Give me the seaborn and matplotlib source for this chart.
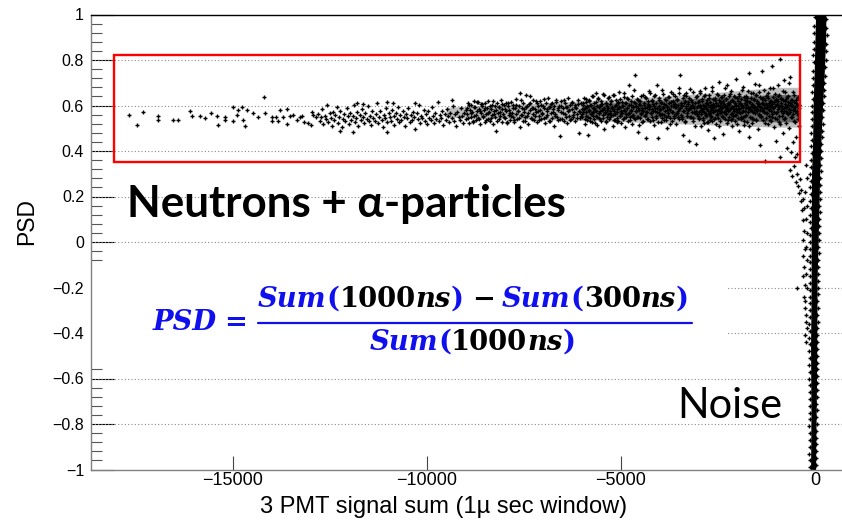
import numpy as np
import pandas as pd
import matplotlib
matplotlib.use("Agg")
import matplotlib.pyplot as plt
import seaborn as sns
from matplotlib.ticker import FixedLocator, FuncFormatter, AutoMinorLocator
from matplotlib.patches import Rectangle
from matplotlib.lines import Line2D

# ---------------- data ----------------
X_TICKS = [-15000, -10000, -5000, 0]
Y_TICKS = [-1.0, -0.8, -0.6, -0.4, -0.2, 0.0, 0.2, 0.4, 0.6, 0.8, 1.0]
GRID_Y = [0.8, 0.6, 0.4, 0.2, 0.0, -0.2, -0.4, -0.6, -0.8]
X_RANGE = (-18645, 695)
Y_RANGE = (-1.0, 1.0)
BOX_X = (-18058, -399)
BOX_Y = (0.350, 0.822)

# sparse left part of the neutron / alpha band
SPARSE = [(-17657,.560),(-17467,.516),(-17296,.571),(-16910,.554),(-16927,.536),(-16539,.537),(-16394,.537),
          (-16094,.574),(-16051,.554),(-15836,.552),(-15699,.543),(-15553,.566),(-15390,.552),(-15364,.516),
          (-15184,.551),(-15184,.536),(-14978,.592),(-14978,.533),(-14892,.558),(-14849,.580),(-14755,.592),
          (-14737,.536),(-14677,.512),(-14626,.582),(-14463,.566),(-14343,.548),(-14180,.636),(-14154,.565),
          (-13974,.548),(-13974,.533),(-13880,.548),(-13776,.580),(-13828,.530),(-13690,.551),(-13604,.583),
          (-13587,.518),(-13519,.553),(-13433,.558),(-13347,.536),(-13261,.548),(-13218,.556),(-13158,.528),
          (-13046,.524),(-12952,.573),(-12969,.516),(-12918,.559),(-12849,.551)]

MIDDLE = [(-12790,.561),(-12760,.532),(-12720,.548),(-12700,.586),(-12660,.519),(-12630,.553),(-12600,.541),
          (-12570,.603),(-12540,.528),(-12500,.566),(-12470,.545),(-12450,.512),(-12410,.571),(-12380,.536),
          (-12350,.557),(-12320,.594),(-12290,.523),(-12250,.549),(-12230,.490),(-12220,.578),(-12190,.507),
          (-12160,.541),(-12130,.563),(-12100,.534),(-12060,.587),(-12030,.552),(-12000,.518),(-11970,.569),
          (-11940,.538),(-11910,.556),(-11890,.482),(-11880,.601),(-11850,.529),(-11820,.545),(-11800,.612),
          (-11790,.572),(-11760,.511),(-11730,.558),(-11700,.537),(-11670,.583),(-11640,.549),(-11630,.606),
          (-11610,.524),(-11580,.566),(-11550,.542),(-11520,.597),(-11490,.531),(-11460,.555),(-11430,.514),
          (-11400,.576),(-11370,.546),(-11340,.533),(-11310,.562),(-11280,.609),(-11250,.521),(-11220,.551),
          (-11190,.574),(-11160,.538),(-11130,.505),(-11100,.559),(-11070,.544),(-11040,.588),(-11030,.617),
          (-11020,.484),(-11010,.527),(-10980,.565),(-10950,.548),(-10920,.532),(-10890,.579),(-10860,.611),
          (-10850,.553),(-10830,.516),(-10800,.569),(-10770,.541),(-10740,.595),(-10710,.526),(-10680,.557),
          (-10650,.536),(-10620,.574),(-10590,.548),(-10560,.512),(-10530,.563),(-10500,.543),(-10470,.589),
          (-10440,.529),(-10410,.558),(-10380,.537),(-10350,.571),(-10320,.551),(-10300,.613),(-10290,.496),
          (-10260,.566),(-10230,.539),(-10200,.604),(-10170,.525),(-10140,.556),(-10110,.545),(-10080,.582),
          (-10050,.533),(-10020,.561),(-9990,.519),(-9960,.575),(-9930,.547),(-9900,.535),(-9870,.592),
          (-9840,.554),(-9810,.523),(-9780,.568),(-9750,.542),(-9720,.614),(-9690,.531),(-9660,.559),
          (-9630,.546),(-9600,.577),(-9570,.515),(-9540,.563),(-9510,.538),(-9480,.585),(-9450,.552),
          (-9420,.527),(-9390,.569),(-9360,.544),(-9350,.625),(-9330,.598),(-9300,.534),(-9270,.561),
          (-9240,.508),(-9210,.573),(-9180,.548),(-9150,.536),(-9120,.589),(-9090,.555),(-9060,.522),(-9030,.566),
          (-8990,.541),(-8970,.588),(-8950,.563),(-8930,.612),(-8910,.522),(-8890,.579),(-8870,.548),(-8850,.603),
          (-8830,.572),(-8810,.531),(-8790,.621),(-8770,.556),(-8750,.594),(-8730,.535),(-8710,.575),(-8690,.615),
          (-8670,.544),(-8650,.585),(-8630,.517),(-8610,.607),(-8590,.567),(-8570,.598),(-8550,.552),(-8530,.581),
          (-8510,.526),(-8490,.609),(-8470,.561),(-8450,.590),(-8430,.541),(-8410,.618),(-8390,.570),(-8370,.533),
          (-8350,.583),(-8330,.557),(-8310,.604),(-8290,.519),(-8270,.577),(-8250,.596),(-8230,.549),(-8210,.486),
          (-8190,.613),(-8170,.566),(-8150,.539),(-8130,.592),(-8110,.555),(-8090,.623),(-8070,.528),(-8050,.586),
          (-8030,.562),(-8010,.601),(-7990,.545),(-7970,.574),(-7950,.611),(-7930,.524),(-7910,.597),(-7890,.558),
          (-7870,.582),(-7850,.537),(-7830,.616),(-7810,.569),(-7790,.550),(-7770,.603),(-7750,.528),(-7730,.589),
          (-7710,.564),(-7690,.627),(-7670,.541),(-7650,.578),(-7630,.597),(-7610,.505),(-7590,.653),(-7570,.560),
          (-7550,.587),(-7530,.533),(-7510,.612),(-7490,.572),(-7470,.548),(-7450,.645),(-7430,.594),(-7410,.556),
          (-7390,.519),(-7370,.606),(-7350,.579),(-7330,.640),(-7310,.543),(-7290,.591),(-7270,.563),(-7250,.625),
          (-7230,.536),(-7210,.584),(-7190,.571),(-7170,.610),(-7150,.529),(-7130,.596),(-7110,.553),(-7090,.581),
          (-7070,.618),(-7050,.540),(-7030,.566),(-7010,.600),(-6990,.547),(-6970,.588),(-6950,.521),(-6930,.613),
          (-6910,.575),(-6890,.558),(-6870,.631),(-6850,.534),(-6830,.592),(-6810,.568),(-6790,.608),(-6770,.545),
          (-6750,.584),(-6730,.512),(-6710,.599),(-6690,.563),(-6670,.626),(-6650,.551),(-6630,.579),(-6610,.538),
          (-6590,.597),(-6570,.466),(-6550,.572),(-6530,.619),(-6510,.542),(-6490,.587),(-6470,.531),(-6450,.609),
          (-6430,.564),(-6410,.593),(-6390,.525),(-6370,.578),(-6350,.634),(-6330,.556),(-6310,.601),(-6290,.539),
          (-6270,.583),(-6250,.615),(-6230,.548),(-6210,.570),(-6190,.603),(-6170,.530),(-6150,.590),(-6130,.562),
          (-6110,.624),(-6090,.477),(-6070,.577),(-6050,.546),(-6030,.611),(-6010,.585)]

MIDDLE_CORE = [(-8980,.582),(-8940,.547),(-8900,.601),(-8860,.566),(-8820,.529),(-8780,.593),(-8740,.558),
               (-8700,.615),(-8660,.540),(-8620,.574),(-8580,.605),(-8540,.551),(-8500,.587),(-8460,.535),
               (-8420,.569),(-8380,.598),(-8340,.544),(-8300,.620),(-8260,.562),(-8220,.580),(-8180,.533),
               (-8140,.595),(-8100,.571),(-8060,.608),(-8020,.549),(-7980,.586),(-7940,.526),(-7900,.612),
               (-7860,.565),(-7820,.553),(-7780,.591),(-7740,.538),(-7700,.604),(-7660,.577),(-7620,.546),
               (-7580,.623),(-7540,.560),(-7500,.584),(-7460,.531),(-7420,.597),(-7380,.568),(-7340,.610),
               (-7300,.542),(-7260,.589),(-7220,.556),(-7180,.618),(-7140,.575),(-7100,.537),(-7060,.602),
               (-7020,.563),(-6980,.629),(-6940,.548),(-6900,.583),(-6860,.595),(-6820,.534),(-6780,.609),
               (-6740,.571),(-6700,.552),(-6660,.616),(-6620,.587),(-6580,.541),(-6540,.600),(-6500,.566),
               (-6460,.625),(-6420,.550),(-6380,.592),(-6340,.579),(-6300,.536),(-6260,.613),(-6220,.560),
               (-6180,.594),(-6140,.545),(-6100,.607),(-6060,.573),(-6020,.556)]

DENSE = [(-5995,.548),(-5980,.602),(-5965,.571),(-5950,.633),(-5935,.519),(-5920,.587),(-5905,.556),(-5890,.615),
         (-5875,.537),(-5860,.594),(-5845,.470),(-5830,.578),(-5815,.624),(-5800,.545),(-5785,.603),(-5770,.563),
         (-5755,.641),(-5740,.528),(-5725,.590),(-5710,.571),(-5695,.612),(-5680,.539),(-5665,.582),(-5650,.655),
         (-5635,.553),(-5620,.597),(-5605,.516),(-5590,.630),(-5575,.568),(-5560,.544),(-5545,.596),(-5530,.574),
         (-5515,.621),(-5500,.533),(-5485,.608),(-5470,.559),(-5455,.586),(-5440,.498),(-5425,.644),(-5410,.565),
         (-5395,.527),(-5380,.613),(-5365,.579),(-5350,.550),(-5335,.632),(-5320,.591),(-5305,.541),(-5290,.605),
         (-5275,.569),(-5260,.620),(-5245,.557),(-5230,.589),(-5215,.512),(-5200,.647),(-5185,.575),(-5170,.538),
         (-5155,.600),(-5140,.564),(-5125,.626),(-5110,.546),(-5095,.583),(-5080,.609),(-5065,.531),(-5050,.594),
         (-5035,.660),(-5020,.552),(-5005,.577),(-4990,.521),(-4975,.617),(-4960,.568),(-4945,.598),(-4930,.543),
         (-4915,.636),(-4900,.575),(-4885,.506),(-4870,.611),(-4855,.561),(-4840,.589),(-4825,.534),(-4810,.627),
         (-4795,.689),(-4780,.566),(-4765,.548),(-4750,.603),(-4735,.581),(-4720,.520),(-4705,.642),(-4690,.592),
         (-4675,.557),(-4660,.614),(-4645,.733),(-4630,.539),(-4615,.596),(-4600,.574),(-4585,.628),(-4570,.551),
         (-4555,.485),(-4540,.607),(-4525,.582),(-4510,.545),(-4495,.619),(-4480,.563),(-4465,.590),(-4450,.529),
         (-4435,.648),(-4420,.576),(-4405,.601),(-4390,.554),(-4375,.636),(-4360,.570),(-4345,.456),(-4330,.593),
         (-4315,.542),(-4300,.618),(-4285,.585),(-4270,.664),(-4255,.532),(-4240,.599),(-4225,.566),(-4210,.623),
         (-4195,.551),(-4180,.608),(-4165,.577),(-4150,.515),(-4135,.640),(-4120,.589),(-4105,.547),(-4090,.612),
         (-4075,.571),(-4060,.689),(-4045,.456),(-4030,.596),(-4015,.634),(-4000,.558),(-3985,.580),(-3970,.526),
         (-3955,.615),(-3940,.563),(-3925,.651),(-3910,.591),(-3895,.538),(-3880,.606),(-3865,.574),(-3850,.625),
         (-3835,.549),(-3820,.592),(-3805,.503),(-3790,.637),(-3775,.568),(-3760,.611),(-3745,.582),(-3730,.545),
         (-3715,.659),(-3700,.597),(-3685,.530),(-3670,.621),(-3655,.571),(-3640,.608),(-3625,.554),(-3610,.640),
         (-3595,.593),(-3580,.517),(-3565,.628),(-3550,.566),(-3535,.602),(-3520,.548),(-3505,.676),(-3490,.585),
         (-3475,.734),(-3460,.560),(-3445,.613),(-3430,.541),(-3415,.597),(-3400,.470),(-3385,.644),(-3370,.574),
         (-3355,.529),(-3340,.618),(-3325,.588),(-3310,.655),(-3295,.556),(-3280,.607),(-3265,.579),(-3250,.632),
         (-3235,.443),(-3220,.594),(-3205,.549),(-3190,.623),(-3175,.571),(-3160,.601),(-3145,.534),(-3130,.661),
         (-3115,.589),(-3100,.567),(-3085,.612),(-3070,.432),(-3055,.578),(-3040,.640),(-3025,.555),(-3010,.597)]

DENSEST = [(-2995,.572),(-2985,.618),(-2975,.541),(-2965,.597),(-2955,.655),(-2945,.563),(-2935,.589),(-2925,.512),
           (-2915,.630),(-2905,.578),(-2895,.604),(-2885,.547),(-2875,.583),(-2865,.641),(-2855,.525),(-2845,.596),
           (-2835,.568),(-2825,.677),(-2815,.553),(-2805,.611),(-2795,.587),(-2785,.529),(-2775,.622),(-2765,.574),
           (-2755,.603),(-2745,.492),(-2735,.645),(-2725,.561),(-2715,.594),(-2705,.538),(-2695,.616),(-2685,.579),
           (-2675,.550),(-2665,.662),(-2655,.588),(-2645,.533),(-2635,.607),(-2625,.571),(-2615,.628),(-2605,.457),
           (-2595,.596),(-2585,.545),(-2575,.634),(-2565,.582),(-2555,.610),(-2545,.519),(-2535,.574),(-2525,.650),
           (-2515,.559),(-2505,.601),(-2495,.543),(-2485,.624),(-2475,.585),(-2465,.702),(-2455,.566),(-2445,.598),
           (-2435,.531),(-2425,.613),(-2415,.577),(-2405,.639),(-2395,.590),(-2385,.555),(-2375,.620),(-2365,.473),
           (-2355,.603),(-2345,.572),(-2335,.646),(-2325,.540),(-2315,.595),(-2305,.581),(-2295,.629),(-2285,.562),
           (-2275,.689),(-2265,.598),(-2255,.524),(-2245,.611),(-2235,.575),(-2225,.642),(-2215,.550),(-2205,.606),
           (-2195,.583),(-2185,.617),(-2175,.537),(-2165,.592),(-2155,.664),(-2145,.568),(-2135,.508),(-2125,.625),
           (-2115,.589),(-2105,.552),(-2095,.640),(-2085,.576),(-2075,.600),(-2065,.531),(-2055,.613),(-2045,.586),
           (-2035,.718),(-2025,.559),(-2015,.634),(-2005,.570),(-1995,.597),(-1985,.545),(-1975,.621),(-1965,.583),
           (-1955,.486),(-1945,.652),(-1935,.566),(-1925,.608),(-1915,.539),(-1905,.590),(-1895,.627),(-1885,.573),
           (-1875,.601),(-1865,.548),(-1855,.681),(-1845,.592),(-1835,.515),(-1825,.636),(-1815,.578),(-1805,.613),
           (-1795,.556),(-1785,.604),(-1775,.642),(-1765,.587),(-1755,.529),(-1745,.618),(-1735,.571),(-1725,.663),
           (-1715,.594),(-1705,.744),(-1695,.461),(-1685,.584),(-1675,.615),(-1665,.550),(-1655,.633),(-1645,.598),
           (-1635,.522),(-1625,.607),(-1615,.575),(-1605,.656),(-1595,.603),(-1585,.541),(-1575,.589),(-1565,.627),
           (-1555,.567),(-1545,.695),(-1535,.582),(-1525,.535),(-1515,.646),(-1505,.611),(-1495,.574),(-1485,.620),
           (-1475,.498),(-1465,.596),(-1455,.661),(-1445,.558),(-1435,.608),(-1425,.582),(-1415,.639),(-1405,.427),
           (-1395,.592),(-1385,.553),(-1375,.628),(-1365,.750),(-1355,.579),(-1345,.613),(-1335,.537),(-1325,.601),
           (-1315,.668),(-1305,.570),(-1295,.355),(-1285,.624),(-1275,.587),(-1265,.546),(-1255,.608),(-1245,.641),
           (-1235,.565),(-1225,.594),(-1215,.519),(-1205,.632),(-1195,.583),(-1185,.611),(-1175,.556),(-1165,.677),
           (-1155,.597),(-1145,.533),(-1135,.620),(-1125,.574),(-1115,.774),(-1105,.605),(-1095,.548),(-1085,.636),
           (-1075,.590),(-1065,.507),(-1055,.615),(-1045,.571),(-1035,.652),(-1025,.599),(-1015,.444),(-1005,.625),
           (-995,.566),(-985,.603),(-975,.541),(-965,.688),(-955,.586),(-945,.619),(-935,.528),(-925,.594),
           (-915,.645),(-905,.804),(-895,.372),(-885,.612),(-875,.577),(-865,.634),(-855,.553),(-845,.598),
           (-835,.479),(-825,.622),(-815,.569),(-805,.711),(-795,.589),(-785,.544),(-775,.607),(-765,.658),
           (-755,.575),(-745,.521),(-735,.630),(-725,.593),(-715,.412),(-705,.617),(-695,.561),(-685,.640),
           (-675,.584),(-665,.503),(-655,.611),(-645,.727),(-635,.570),(-625,.598),(-615,.394),(-605,.626),
           (-595,.548),(-585,.603),(-575,.438),(-565,.582),(-555,.659),(-545,.531),(-535,.615),(-525,.577),
           (-515,.372),(-505,.594),(-495,.622),(-485,.460),(-475,.569),(-465,.603),(-455,.385),(-445,.637),
           (-435,.541),(-425,.588),(-415,.512),(-405,.604)]

DENSE_CORE = [(-5990,.562),(-5970,.611),(-5950,.585),(-5930,.540),(-5910,.627),(-5890,.573),(-5870,.598),(-5850,.551),
              (-5830,.619),(-5810,.580),(-5790,.534),(-5770,.603),(-5750,.569),(-5730,.642),(-5710,.556),(-5690,.590),
              (-5670,.524),(-5650,.615),(-5630,.577),(-5610,.548),(-5590,.631),(-5570,.566),(-5550,.595),(-5530,.539),
              (-5510,.608),(-5490,.582),(-5470,.651),(-5450,.545),(-5430,.589),(-5410,.571),(-5390,.612),(-5370,.530),
              (-5350,.599),(-5330,.563),(-5310,.636),(-5290,.575),(-5270,.548),(-5250,.620),(-5230,.592),(-5210,.558),
              (-5190,.584),(-5170,.645),(-5150,.537),(-5130,.604),(-5110,.570),(-5090,.526),(-5070,.617),(-5050,.589),
              (-5030,.553),(-5010,.628),(-4990,.566),(-4970,.597),(-4950,.541),(-4930,.653),(-4910,.580),(-4890,.611),
              (-4870,.549),(-4850,.587),(-4830,.633),(-4810,.561),(-4790,.602),(-4770,.535),(-4750,.578),(-4730,.620),
              (-4710,.556),(-4690,.594),(-4670,.666),(-4650,.543),(-4630,.609),(-4610,.574),(-4590,.548),(-4570,.625),
              (-4550,.587),(-4530,.514),(-4510,.603),(-4490,.569),(-4470,.640),(-4450,.582),(-4430,.530),(-4410,.613),
              (-4390,.591),(-4370,.558),(-4350,.631),(-4330,.572),(-4310,.605),(-4290,.541),(-4270,.596),(-4250,.657),
              (-4230,.565),(-4210,.584),(-4190,.618),(-4170,.538),(-4150,.600),(-4130,.575),(-4110,.646),(-4090,.553),
              (-4070,.589),(-4050,.527),(-4030,.622),(-4010,.567),(-3990,.583),(-3970,.611),(-3950,.547),(-3930,.669),
              (-3910,.594),(-3890,.560),(-3870,.628),(-3850,.536),(-3830,.604),(-3810,.579),(-3790,.555),(-3770,.637),
              (-3750,.586),(-3730,.519),(-3710,.615),(-3690,.570),(-3670,.598),(-3650,.649),(-3630,.544),(-3610,.607),
              (-3590,.592),(-3570,.563),(-3550,.624),(-3530,.578),(-3510,.540),(-3490,.656),(-3470,.589),(-3450,.603),
              (-3430,.551),(-3410,.633),(-3390,.574),(-3370,.609),(-3350,.532),(-3330,.596),(-3310,.642),(-3290,.565),
              (-3270,.617),(-3250,.583),(-3230,.548),(-3210,.671),(-3190,.588),(-3170,.614),(-3150,.545),(-3130,.597),
              (-3110,.573),(-3090,.510),(-3070,.639),(-3050,.594),(-3030,.562),(-3010,.614),(-2990,.545),(-2970,.603),
              (-2950,.665),(-2930,.580),(-2910,.619),(-2890,.537),(-2870,.597),(-2850,.573),(-2830,.648),(-2810,.558),
              (-2790,.611),(-2770,.586),(-2750,.529),(-2730,.632),(-2710,.567),(-2690,.602),(-2670,.554),(-2650,.681),
              (-2630,.593),(-2610,.576),(-2590,.539),(-2570,.623),(-2550,.598),(-2530,.561),(-2510,.644),(-2490,.582),
              (-2470,.509),(-2450,.614),(-2430,.571),(-2410,.637),(-2390,.595),(-2370,.550),(-2350,.608),(-2330,.675),
              (-2310,.566),(-2290,.627),(-2270,.588),(-2250,.535),(-2230,.603),(-2210,.579),(-2190,.652),(-2170,.563),
              (-2150,.594),(-2130,.541),(-2110,.619),(-2090,.585),(-2070,.636),(-2050,.557),(-2030,.601),(-2010,.520),
              (-1990,.586),(-1970,.642),(-1950,.570),(-1930,.613),(-1910,.549),(-1890,.597),(-1870,.668),(-1850,.575),
              (-1830,.531),(-1810,.622),(-1790,.605),(-1770,.558),(-1750,.634),(-1730,.589),(-1710,.512),(-1690,.616),
              (-1670,.579),(-1650,.653),(-1630,.546),(-1610,.600),(-1590,.571),(-1570,.626),(-1550,.592),(-1530,.538),
              (-1510,.647),(-1490,.583),(-1470,.609),(-1450,.562),(-1430,.688),(-1410,.595),(-1390,.548),(-1370,.613),
              (-1350,.575),(-1330,.631),(-1310,.590),(-1290,.523),(-1270,.640),(-1250,.568),(-1230,.604),(-1210,.657),
              (-1190,.582),(-1170,.536),(-1150,.621),(-1130,.597),(-1110,.561),(-1090,.676),(-1070,.588),(-1050,.615),
              (-1030,.545),(-1010,.630),(-990,.606),(-970,.571),(-950,.643),(-930,.553),(-910,.598),(-890,.517),
              (-870,.627),(-850,.585),(-830,.662),(-810,.574),(-790,.540),(-770,.618),(-750,.592),(-730,.639),
              (-710,.566),(-690,.603),(-670,.701),(-650,.579),(-630,.551),(-610,.624),(-590,.596),(-570,.563),
              (-550,.648),(-530,.584),(-510,.528),(-490,.611),(-470,.577),(-450,.635),(-430,.558),(-410,.602)]

TAIL = [(-640,.315),(-590,.290),(-545,.335),(-500,.262),(-470,.300),(-440,.245),(-420,.215),(-395,.275),
        (-370,.180),(-350,.230),(-335,.140),(-320,.190),(-305,.095),(-290,.150),(-280,.050),(-300,.010),
        (-265,-.030),(-470,-.200),(-310,-.060),(-275,-.110),(-300,-.150),(-255,-.190),(-290,-.240),(-260,-.290),
        (-240,-.350),(-270,-.410),(-230,.340),(-210,.280),(-245,.220),(-200,.160),(-225,.100),(-215,.040),
        (-240,-.020),(-205,-.080),(-230,-.140),(-210,-.200),(-250,-.260),(-220,-.320),(-200,-.380),(-235,-.440)]

# where the neutron band is so dense that the dots merge (envelopes of the dark core)
HAZE_X = [-9500, -7500, -5500, -3500, -2000, -1000, -430]
HAZE_LOW = [.548, .540, .532, .520, .510, .505, .505]
HAZE_HIGH = [.592, .608, .625, .645, .665, .680, .680]
CORE_X = [-6000, -4500, -3000, -1800, -1000, -430]
CORE_LOW = [.558, .548, .540, .532, .528, .528]
CORE_HIGH = [.602, .620, .632, .642, .648, .648]

# noise band near zero: solid core envelope + ragged edge points
NOISE_BAND_Y = [1.0, 0.9, 0.75, 0.6, 0.45, 0.3, 0.15, 0.0, -0.15, -0.3, -0.45, -0.6, -0.75, -0.9, -1.0]
NOISE_BAND_LEFT = [15, 0, -20, -50, -60, -90, -95, -100, -100, -105, -115, -110, -105, -110, -115]
NOISE_BAND_RIGHT = [280, 275, 240, 195, 155, 120, 100, 80, 55, 50, 45, 40, 30, 20, 15]
NOISE_EDGE = [(-10,.99),(-25,.95),(-15,.92),(-35,.88),(-20,.85),(-45,.82),(-30,.79),(-50,.75),(-60,.72),(-45,.69),
              (-75,.66),(-60,.63),(-80,.60),(-70,.57),(-90,.54),(-75,.51),(-95,.48),(-85,.45),(-105,.42),(-90,.39),
              (-115,.36),(-100,.33),(-120,.30),(-110,.27),(-125,.24),(-105,.21),(-130,.18),(-115,.15),(-125,.12),
              (-135,.09),(-115,.06),(-130,.03),(-120,.00),(-140,-.03),(-118,-.06),(-132,-.09),(-122,-.12),
              (-140,-.15),(-118,-.18),(-135,-.21),(-125,-.24),(-140,-.27),(-122,-.30),(-135,-.33),(-148,-.36),
              (-128,-.39),(-142,-.42),(-130,-.45),(-145,-.48),(-132,-.51),(-150,-.54),(-130,-.57),(-142,-.60),
              (-125,-.63),(-140,-.66),(-128,-.69),(-120,-.72),(-138,-.75),(-125,-.78),(-145,-.81),(-128,-.84),
              (-138,-.87),(-130,-.90),(-145,-.93),(-132,-.96),(-140,-.99),
              (295,.98),(285,.94),(305,.91),(290,.87),(275,.84),(280,.80),(258,.77),(262,.73),(235,.70),(240,.67),
              (222,.64),(210,.61),(218,.58),(190,.55),(198,.52),(172,.49),(180,.46),(160,.43),(148,.40),(158,.37),
              (136,.34),(145,.31),(128,.28),(138,.25),(118,.22),(126,.19),(110,.16),(120,.13),(102,.10),(112,.07),
              (92,.04),(104,.01),(88,-.02),(96,-.05),(78,-.08),(88,-.11),(70,-.14),(80,-.17),(65,-.20),(74,-.23),
              (60,-.26),(70,-.29),(58,-.32),(66,-.35),(54,-.38),(62,-.41),(57,-.44),(50,-.47),(60,-.50),(47,-.53),
              (56,-.56),(44,-.59),(52,-.62),(40,-.65),(48,-.68),(36,-.71),(44,-.74),(32,-.77),(40,-.80),(27,-.83),
              (36,-.86),(23,-.89),(31,-.92),(18,-.95),(27,-.98)]

X_LABEL = "3 PMT signal sum (1\u00b5 sec window)"
Y_LABEL = "PSD"
NEUTRON_TEXT = "Neutrons + \u03b1-particles"
NOISE_TEXT = "Noise"

# ---------------- figure ----------------
sns.set_style("white")
plt.rcParams["font.family"] = ["Liberation Sans", "DejaVu Sans"]
plt.rcParams["text.color"] = "black"
plt.rcParams["axes.labelcolor"] = "black"
plt.rcParams["xtick.color"] = "black"
plt.rcParams["ytick.color"] = "black"

W, H = 842, 521
fig = plt.figure(figsize=(W / 100, H / 100), dpi=100)
ax = fig.add_axes([91 / W, 1 - 469.5 / H, 751 / W, 455 / H])

frames = []
for name, pts in [("sparse", SPARSE), ("middle", MIDDLE), ("middle_core", MIDDLE_CORE), ("dense", DENSE),
                  ("densest", DENSEST), ("dense_core", DENSE_CORE), ("tail", TAIL), ("noise", NOISE_EDGE)]:
    d = pd.DataFrame(pts, columns=["signal", "psd"])
    d["group"] = name
    frames.append(d)
df = pd.concat(frames, ignore_index=True)

ax.fill_between(HAZE_X, HAZE_LOW, HAZE_HIGH, color="black", alpha=0.25, lw=0, zorder=1.4)
ax.fill_between(CORE_X, CORE_LOW, CORE_HIGH, color="black", alpha=0.45, lw=0, zorder=1.45)
ax.fill_betweenx(NOISE_BAND_Y, NOISE_BAND_LEFT, NOISE_BAND_RIGHT, color="black", lw=0, zorder=1.5)
sns.scatterplot(data=df, x="signal", y="psd", marker="+", color="black", s=11,
                linewidth=1.0, ax=ax, legend=False, zorder=1.6)

# grid lines (dotted) and white box behind the formula
for gy in GRID_Y:
    ax.axhline(gy, color="#8a8a8a", lw=0.8, ls=(0, (1, 2)), zorder=0.9)
ax.add_patch(Rectangle((0, (469.5 - 365) / 455), (728 - 91) / 751, 103 / 455,
                       transform=ax.transAxes, facecolor="white", edgecolor="none", zorder=1.2))

# red selection box
ax.add_patch(Rectangle((BOX_X[0], BOX_Y[0]), BOX_X[1] - BOX_X[0], BOX_Y[1] - BOX_Y[0],
                       fill=False, edgecolor="#ff0000", lw=1.7, zorder=3))

ax.set_xlim(*X_RANGE)
ax.set_ylim(*Y_RANGE)

ax.xaxis.set_major_locator(FixedLocator(X_TICKS))
ax.xaxis.set_major_formatter(FuncFormatter(lambda v, p: f"{int(round(v))}".replace("-", "\u2212")))
ax.yaxis.set_major_locator(FixedLocator(Y_TICKS))
ax.yaxis.set_minor_locator(AutoMinorLocator(5))


def yfmt(v, p):
    v = round(v, 3)
    if abs(v) < 1e-9:
        return "0"
    return f"{v:g}".replace("-", "\u2212")


ax.yaxis.set_major_formatter(FuncFormatter(yfmt))

ax.tick_params(axis="y", which="major", direction="in", length=16.5, width=0.8,
               color="black", labelcolor="black", labelsize=11.5, pad=5, left=True)
ax.tick_params(axis="y", which="minor", direction="in", length=8, width=0.8, color="#555555", left=True)
ax.tick_params(axis="x", which="major", direction="in", length=10, width=0.8,
               color="#444444", labelcolor="black", labelsize=13, pad=1.5, bottom=True)
ax.tick_params(axis="x", which="minor", bottom=False)

for side in ["left", "bottom"]:
    ax.spines[side].set_color("#808080")
    ax.spines[side].set_linewidth(1.0)
ax.spines["top"].set_color("black")
ax.spines["top"].set_linewidth(1.0)
ax.spines["right"].set_visible(False)

ax.set_xlabel(X_LABEL, fontsize=17, va="baseline", ha="center", color="black")
ax.xaxis.set_label_coords((443.5 - 91) / 751, (469.5 - 513.3) / 455)
ax.set_ylabel(Y_LABEL, fontsize=16.5, va="baseline", ha="center", color="black")
ax.yaxis.set_label_coords((33 - 91) / 751, (469.5 - 221) / 455)

renderer = fig.canvas.get_renderer()


def fx(px):
    return px / W


def fy(py):
    return 1 - py / H


def fitted_text(px, py, s, target_w, size, **kw):
    t = fig.text(fx(px), fy(py), s, fontsize=size, ha="left", va="baseline", **kw)
    w = t.get_window_extent(renderer).width
    t.set_fontsize(size * target_w / w)
    return t


fitted_text(127, 217.3, NEUTRON_TEXT, 439, 30, family=["Lato", "Open Sans", "DejaVu Sans"],
            fontweight="bold", color="black")
fitted_text(677, 418.3, NOISE_TEXT, 105, 28, family=["Lato", "Open Sans", "DejaVu Sans"], color="black")

# ---------------- formula ----------------
BLUE = "#1010ee"
SERIF = ["DejaVu Serif"]
NUM = [("Sum", BLUE, "italic", 0, 0), ("(", BLUE, "normal", 0, 0), ("1000", "black", "normal", 0, 0),
       ("ns", "black", "italic", 0, 0), (")", BLUE, "normal", 0, 0), ("\u2212", "black", "normal", 0.3, 0.25),
       ("Sum", BLUE, "italic", 0, 0), ("(", BLUE, "normal", 0, 0), ("300", "black", "normal", 0, 0),
       ("ns", "black", "italic", 0, 0), (")", BLUE, "normal", 0, 0)]
DEN = [("Sum", BLUE, "italic", 0, 0), ("(", BLUE, "normal", 0, 0), ("1000", "black", "normal", 0, 0),
       ("ns", "black", "italic", 0, 0), (")", BLUE, "normal", 0, 0)]


def draw_run(pieces, x0, base_py, size, keep=True):
    x = x0
    arts = []
    em = size * 100 / 72
    for txt, col, style, g0, g1 in pieces:
        x += g0 * em
        t = fig.text(fx(x), fy(base_py), txt, color=col, fontsize=size, fontweight="bold",
                     fontstyle=style, family=SERIF, ha="left", va="baseline")
        bb = t.get_window_extent(renderer)
        x = bb.x1 + g1 * em
        arts.append(t)
    if not keep:
        for a in arts:
            a.remove()
    return x - x0


base = 18
w0 = draw_run(NUM, 258, 306.7, base, keep=False)
size = base * 430 / w0
draw_run(NUM, 258, 306.7, size)
wd = draw_run(DEN, 0, 350, size, keep=False)
draw_run(DEN, 472.5 - wd / 2, 350, size)
fig.text(fx(153), fy(330), "PSD", color=BLUE, fontsize=size, fontweight="bold", fontstyle="italic",
         family=SERIF, ha="left", va="baseline")
fig.text(fx(224), fy(330), "=", color=BLUE, fontsize=size, fontweight="bold",
         family=SERIF, ha="left", va="baseline")
fig.add_artist(Line2D([fx(258.3), fx(691.7)], [fy(322.5), fy(322.5)], transform=fig.transFigure,
                      color=BLUE, lw=1.6))

fig.savefig("out.png", dpi=100)
